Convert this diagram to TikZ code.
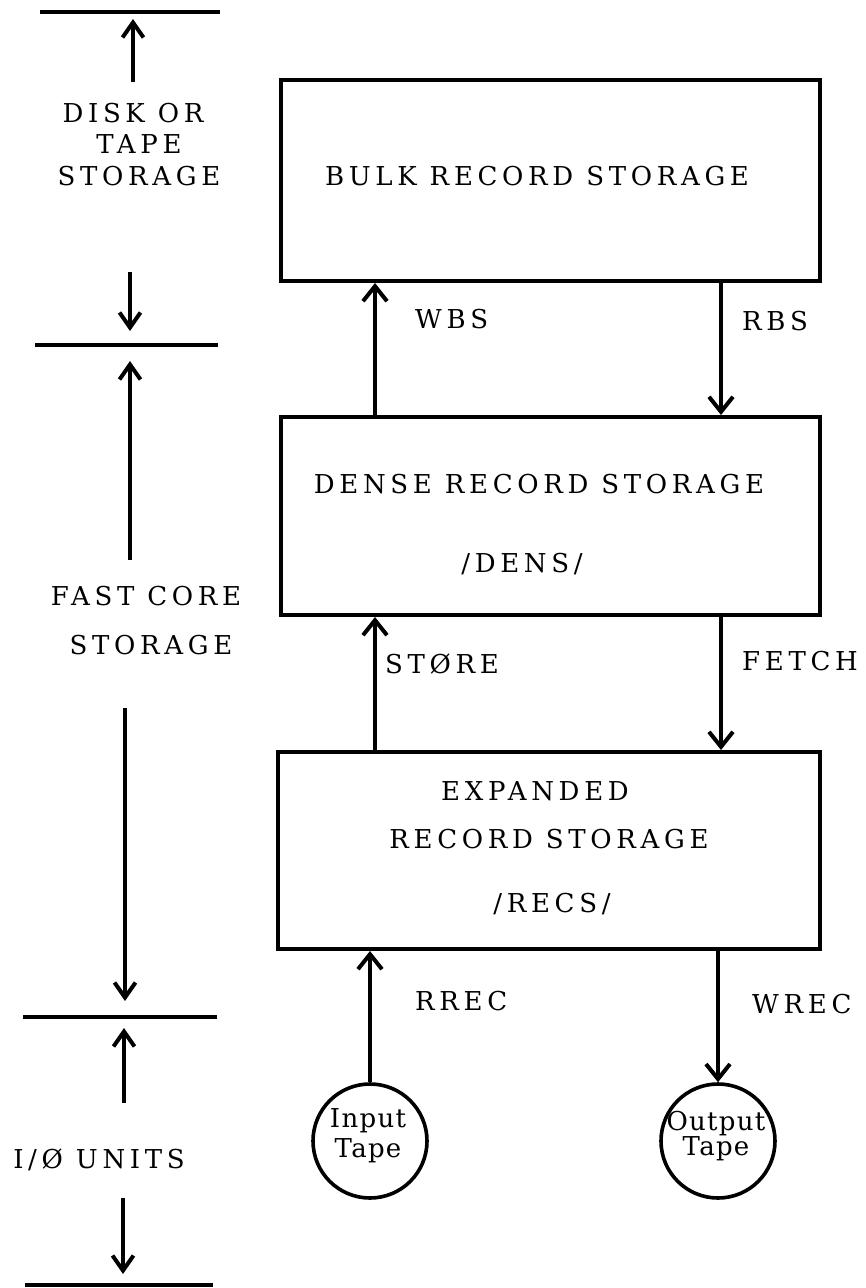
\documentclass[tikz,border=0pt]{standalone}
\usepackage{fontspec}
\setmainfont{DejaVu Serif}[LetterSpace=18]
\usetikzlibrary{arrows.meta}
\begin{document}
\begin{tikzpicture}[x=1pt,y=-1pt,
  box/.style={draw, line width=4pt, inner sep=0pt},
  tape/.style={draw, circle, line width=3.6pt, inner sep=0pt, minimum size=114pt},
  lbl/.style={font=\fontsize{26}{30}\selectfont, inner sep=0pt, anchor=base},
  llbl/.style={lbl, anchor=base west},
  tlbl/.style={font=\fontsize{26}{30}\selectfont\addfontfeatures{LetterSpace=5}, inner sep=0pt, anchor=base},
  arr/.style={line width=4pt, -{Straight Barb[length=15pt,width=24pt]}},
  darr/.style={line width=4pt, -{Straight Barb[length=15pt,width=21pt]}},
  rulel/.style={line width=4pt}]
\useasboundingbox (0,0) rectangle (866,1288);
\fill[white] (0,0) rectangle (866,1288);

% boxes
\node[box, minimum width=539pt, minimum height=201pt] (bulk) at (550.5,180.5) {};
\node[box, minimum width=539pt, minimum height=198pt] (dense) at (550.5,516) {};
\node[box, minimum width=542pt, minimum height=197pt] (exp) at (549,850.5) {};
\node[tape] (in) at (370,1141) {};
\node[tape] (out) at (718,1141) {};

% box texts
\node[lbl] (tbulk) at (537,185) {BULK RECORD STORAGE};
\node[lbl] (tdense) at (539,493) {DENSE RECORD STORAGE};
\node[lbl] (tdens) at (522,572) {/DENS/};
\node[lbl] (texp) at (535,800) {EXPANDED};
\node[lbl] (trec) at (549,848) {RECORD STORAGE};
\node[lbl] (trecs) at (552,912) {/RECS/};
\node[tlbl] (tin1) at (368,1127) {Input};
\node[tlbl] (tin2) at (368,1157) {Tape};
\node[tlbl] (tout1) at (716,1130) {Output};
\node[tlbl] (tout2) at (716,1155) {Tape};

% connectors
\coordinate (cL) at (375,0);
\coordinate (cR) at (721,0);
\draw[arr] (dense.north -| cL) -- (bulk.south -| cL);
\draw[arr] (bulk.south -| cR) -- (dense.north -| cR);
\draw[arr] (exp.north -| cL) -- (dense.south -| cL);
\draw[arr] (dense.south -| cR) -- (exp.north -| cR);
\draw[arr] (in.north) -- (exp.south -| in.north);
\draw[arr] (exp.south -| out.north) -- (out.north);

% connector labels
\node[llbl] (lwbs) at (415,328) {WBS};
\node[llbl] (lrbs) at (742,330) {RBS};
\node[llbl] (lstore) at (385,673) {STØRE};
\node[llbl] (lfetch) at (742,670) {FETCH};
\node[llbl] (lrrec) at (415,1010) {RREC};
\node[llbl] (lwrec) at (752,1013) {WREC};

% left scale
\coordinate (r0a) at (40,12);  \coordinate (r0b) at (220,12);
\coordinate (r1a) at (35,345); \coordinate (r1b) at (218,345);
\coordinate (r2a) at (23,1017); \coordinate (r2b) at (217,1017);
\coordinate (r3a) at (25,1285); \coordinate (r3b) at (213,1285);
\draw[rulel] (r0a) -- (r0b);
\draw[rulel] (r1a) -- (r1b);
\draw[rulel] (r2a) -- (r2b);
\draw[rulel] (r3a) -- (r3b);

\coordinate (a1s) at (133,82);  \coordinate (a1e) at (133,19);
\coordinate (a2s) at (130,272); \coordinate (a2e) at (130,331);
\coordinate (a3s) at (130,560); \coordinate (a3e) at (130,361);
\coordinate (a4s) at (125,708); \coordinate (a4e) at (125,1001);
\coordinate (a5s) at (124,1103); \coordinate (a5e) at (124,1028);
\coordinate (a6s) at (123,1198); \coordinate (a6e) at (123,1274);
\draw[darr] (a1s) -- (a1e);
\draw[darr] (a2s) -- (a2e);
\draw[darr] (a3s) -- (a3e);
\draw[darr] (a4s) -- (a4e);
\draw[darr] (a5s) -- (a5e);
\draw[darr] (a6s) -- (a6e);

\node[lbl] (ldisk) at (133,122) {DISK OR};
\node[lbl] (ltape) at (139,153) {TAPE};
\node[lbl] (lstor1) at (139,185) {STORAGE};
\node[lbl] (lfast) at (146,605) {FAST CORE};
\node[lbl] (lstor2) at (151,654) {STORAGE};
\node[lbl] (lio) at (99,1168) {I/Ø UNITS};
\end{tikzpicture}
\end{document}
